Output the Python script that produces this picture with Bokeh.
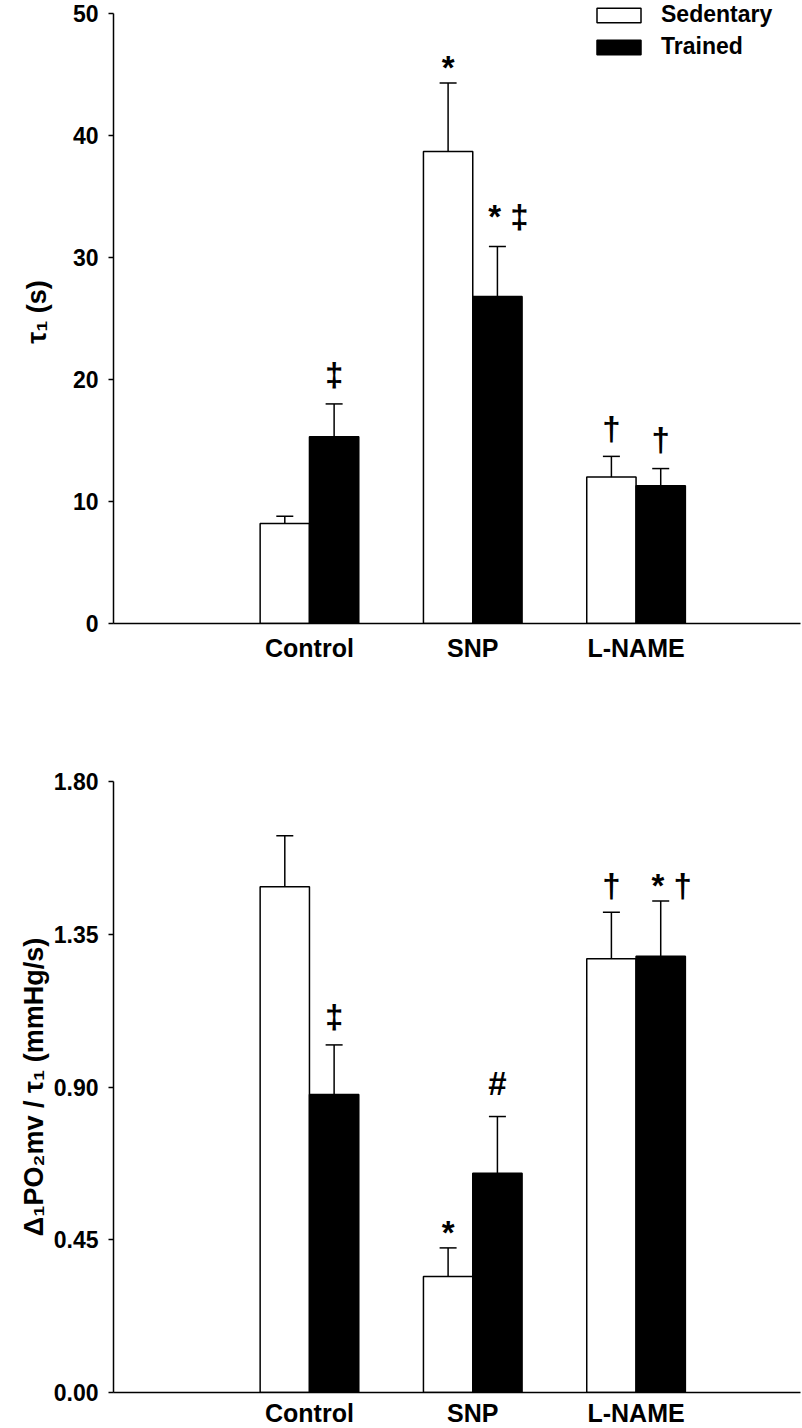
from bokeh.plotting import figure
from bokeh.models import (Whisker, TeeHead, FixedTicker, Legend, LegendItem,
                          ColumnDataSource, Range1d, NumeralTickFormatter)
from bokeh.layouts import column
from bokeh.embed import file_html
from bokeh.resources import INLINE
from bokeh.core.properties import value

categories = ["Control", "SNP", "L-NAME"]
series = ["Sedentary", "Trained"]

tau_sed = [8.2, 38.7, 12.0]
tau_sed_err = [0.6, 5.6, 1.7]
tau_trn = [15.3, 26.8, 11.3]
tau_trn_err = [2.7, 4.1, 1.4]
tau_sed_marks = ["", "*", "†"]
tau_sed_mark_y = [0.0, 45.6, 16.0]
tau_trn_marks = ["‡", "* ‡", "†"]
tau_trn_mark_y = [20.4, 33.4, 15.1]
tau_ticks = [0, 10, 20, 30, 40, 50]

rate_sed = [1.49, 0.342, 1.278]
rate_sed_err = [0.15, 0.084, 0.137]
rate_trn = [0.878, 0.646, 1.285]
rate_trn_err = [0.146, 0.167, 0.163]
rate_sed_marks = ["", "*", "†"]
rate_sed_mark_y = [0.0, 0.471, 1.494]
rate_trn_marks = ["‡", "#", "* †"]
rate_trn_mark_y = [1.108, 0.910, 1.494]
rate_ticks = [0.0, 0.45, 0.90, 1.35, 1.80]

FONT = "Liberation Sans"
BAR_W = 0.302


def panel(sed, sed_err, trn, trn_err, sed_marks, sed_my, trn_marks, trn_my,
          ticks, ylabel, fmt, top, bottom, fh, y_end, label_standoff,
          xl_standoff, legend=False):
    p = figure(frame_width=687, frame_height=fh, output_backend="svg",
               toolbar_location=None, title=None,
               min_border_left=113, min_border_right=2,
               min_border_top=top, min_border_bottom=bottom,
               x_range=Range1d(-0.2, 4.007), y_range=Range1d(ticks[0], y_end))
    p.outline_line_color = None
    p.xgrid.visible = False
    p.ygrid.visible = False
    idx = list(range(1, len(categories) + 1))
    rends = []
    for vals, errs, marks, my, sign, fill in [
            (sed, sed_err, sed_marks, sed_my, -1, "white"),
            (trn, trn_err, trn_marks, trn_my, 1, "black")]:
        xs = [i + sign * BAR_W / 2 for i in idx]
        src = ColumnDataSource(dict(x=xs, top=vals,
                                    hi=[v + e for v, e in zip(vals, errs)]))
        w = Whisker(base="x", lower="top", upper="hi", source=src,
                    dimension="height", line_color="black", line_width=1.5,
                    upper_head=TeeHead(size=17, line_color="black", line_width=1.5),
                    lower_head=None, level="overlay")
        p.add_layout(w)
        r = p.vbar(x="x", top="top", bottom=0, width=BAR_W, source=src,
                   fill_color=fill, line_color="black", line_width=1.5)
        rends.append(r)
        msrc = ColumnDataSource(dict(
            x=xs, y=my, t=marks,
            xo=[11 if len(t) > 1 else 0 for t in marks]))
        p.text(x="x", y="y", text="t", source=msrc, x_offset="xo",
               text_font=value(FONT), text_font_style="bold",
               text_font_size="33px", text_align="center",
               text_baseline="middle", text_color="black")
    xa = p.xaxis[0]
    xa.ticker = FixedTicker(ticks=idx)
    xa.major_label_overrides = {i: c for i, c in zip(idx, categories)}
    xa.major_tick_out = 0
    xa.major_tick_in = 0
    xa.minor_tick_out = 0
    xa.minor_tick_in = 0
    xa.axis_line_width = 1.5
    xa.axis_line_color = "black"
    xa.major_label_text_font = FONT
    xa.major_label_text_font_style = "bold"
    xa.major_label_text_font_size = "25px"
    xa.major_label_text_color = "black"
    xa.major_label_standoff = xl_standoff
    ya = p.yaxis[0]
    ya.bounds = (ticks[0], ticks[-1])
    ya.ticker = FixedTicker(ticks=ticks)
    ya.formatter = NumeralTickFormatter(format=fmt)
    ya.major_tick_out = 5
    ya.major_tick_in = 0
    ya.minor_tick_out = 0
    ya.minor_tick_in = 0
    ya.major_tick_line_width = 1.5
    ya.axis_line_width = 1.5
    ya.axis_line_color = "black"
    ya.major_label_text_font = FONT
    ya.major_label_text_font_style = "bold"
    ya.major_label_text_font_size = "23px"
    ya.major_label_text_color = "black"
    ya.major_label_standoff = 10
    ya.axis_label = ylabel
    ya.axis_label_text_font = FONT
    ya.axis_label_text_font_style = "bold"
    ya.axis_label_text_font_size = "27px"
    ya.axis_label_text_color = "black"
    ya.axis_label_standoff = label_standoff
    if legend:
        lg = Legend(items=[LegendItem(label=s, renderers=[r])
                           for s, r in zip(series, rends)],
                    location=(478, fh - 60), orientation="vertical",
                    border_line_color=None, background_fill_alpha=0,
                    padding=0, margin=0, spacing=5, glyph_width=55,
                    glyph_height=18, label_standoff=15,
                    label_text_font=FONT, label_text_font_style="bold",
                    label_text_font_size="23px", label_text_color="black")
        p.add_layout(lg)
    return p


p1 = panel(tau_sed, tau_sed_err, tau_trn, tau_trn_err,
           tau_sed_marks, tau_sed_mark_y, tau_trn_marks, tau_trn_mark_y,
           tau_ticks, "τ₁ (s)", "0", 0, 60, 623, 51.07, 18, 10, legend=True)
p2 = panel(rate_sed, rate_sed_err, rate_trn, rate_trn_err,
           rate_sed_marks, rate_sed_mark_y, rate_trn_marks, rate_trn_mark_y,
           rate_ticks, "Δ₁PO₂mv / τ₁ (mmHg/s)", "0.00", 98, 34, 611, 1.80,
           2, 6)

layout = column(p1, p2, spacing=0)
open("out.html", "w").write(file_html(layout, INLINE))
